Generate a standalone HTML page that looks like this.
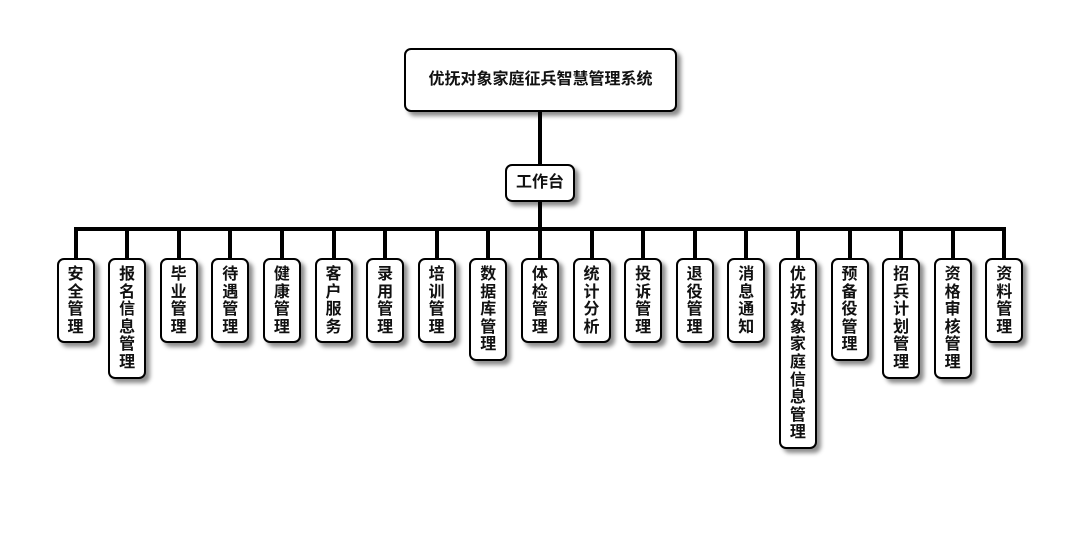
<!DOCTYPE html>
<html><head><meta charset="utf-8"><style>
html,body{margin:0;padding:0;background:#fff;}
body{width:1080px;height:560px;position:relative;overflow:hidden;font-family:"Liberation Sans","Noto Sans CJK SC",sans-serif;}
.b{position:absolute;box-sizing:border-box;border:2px solid #000;border-radius:7px;background:#fff;box-shadow:4px 4px 4px rgba(0,0,0,0.45);font-weight:bold;color:#111;text-align:center;}
.v{width:38px;top:258px;font-size:16px;line-height:17.6px;padding-top:6px;}
.l{position:absolute;background:#000;}
</style></head><body>
<div class="b" style="left:404px;top:48px;width:273px;height:64px;line-height:60px;font-size:16px;">优抚对象家庭征兵智慧管理系统</div>
<div class="l" style="left:538px;top:112px;width:4px;height:52px;"></div>
<div class="b" style="left:505px;top:164px;width:70px;height:38px;line-height:34px;font-size:16px;">工作台</div>
<div class="l" style="left:538px;top:202px;width:4px;height:27px;"></div>
<div class="l" style="left:74px;top:227px;width:932px;height:4px;"></div>
<div id="c"></div>
<script>
var n=["安全管理","报名信息管理","毕业管理","待遇管理","健康管理","客户服务","录用管理","培训管理","数据库管理","体检管理","统计分析","投诉管理","退役管理","消息通知","优抚对象家庭信息管理","预备役管理","招兵计划管理","资格审核管理","资料管理"];
var h="";
for(var i=0;i<n.length;i++){var cx=75.5+i*51.6;var s=n[i];var ht=Math.round(s.length*17.6+15);
h+='<div class="l" style="left:'+(cx-2)+'px;top:229px;width:4px;height:29px;"></div>';
h+='<div class="b v" style="left:'+(cx-19)+'px;height:'+ht+'px;">'+s.split("").join("<br>")+'</div>';}
document.getElementById("c").innerHTML=h;
</script>
</body></html>
